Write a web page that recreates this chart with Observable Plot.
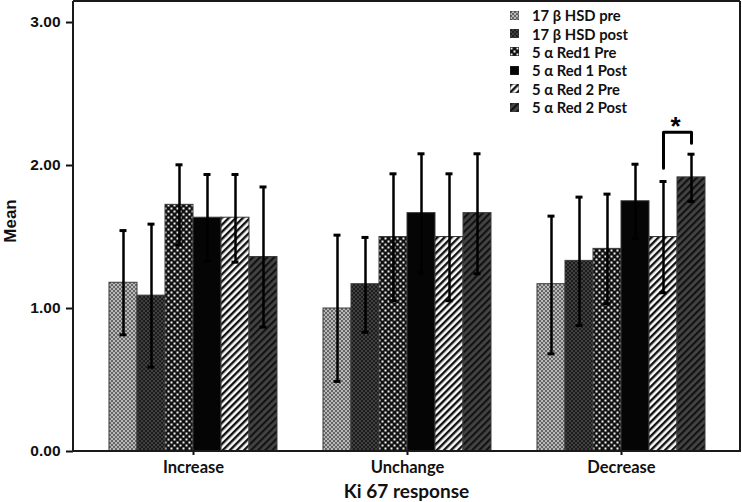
<!DOCTYPE html>
<html>
<head>
<meta charset="utf-8">
<script src="https://cdn.jsdelivr.net/npm/d3@7"></script>
<script src="https://cdn.jsdelivr.net/npm/@observablehq/plot@0.6"></script>
<style>
  body { margin: 0; background: #fff; }
  #wrap { position: relative; width: 742px; height: 502px; }
  #legend { position: absolute; left: 510px; top: 6px; font: bold 14.8px Lato, sans-serif; color: #111; }
  #legend .row { display: flex; align-items: center; height: 18.4px; }
  #legend svg { margin-right: 13px; }
</style>
</head>
<body>
<svg width="0" height="0" style="position:absolute">
  <defs>
    <pattern id="p0" width="4" height="4" patternUnits="userSpaceOnUse">
      <rect width="4" height="4" fill="#b8b8b8"/>
      <rect width="2" height="2" fill="#666"/>
      <rect x="2" y="2" width="2" height="2" fill="#666"/>
    </pattern>
    <pattern id="p1" width="4" height="4" patternUnits="userSpaceOnUse">
      <rect width="4" height="4" fill="#404040"/>
      <rect width="2" height="2" fill="#1c1c1c"/>
      <rect x="2" y="2" width="2" height="2" fill="#1c1c1c"/>
    </pattern>
    <pattern id="p2" width="6" height="6" patternUnits="userSpaceOnUse">
      <rect width="6" height="6" fill="#111"/>
      <rect x="0.5" y="0.5" width="2" height="2" fill="#f4f4f4"/>
      <rect x="3.5" y="3.5" width="2" height="2" fill="#f4f4f4"/>
    </pattern>
    <pattern id="p3" width="4" height="4" patternUnits="userSpaceOnUse">
      <rect width="4" height="4" fill="#050505"/>
    </pattern>
    <pattern id="p4" width="5" height="5" patternUnits="userSpaceOnUse" patternTransform="rotate(45)">
      <rect width="5" height="5" fill="#fafafa"/>
      <rect width="2.4" height="5" fill="#111"/>
    </pattern>
    <pattern id="p5" width="5" height="5" patternUnits="userSpaceOnUse" patternTransform="rotate(45)">
      <rect width="5" height="5" fill="#444"/>
      <rect width="2.2" height="5" fill="#121212"/>
    </pattern>
  </defs>
</svg>
<div id="wrap"><div id="legend"></div></div>
<script>
const groups = ["Increase", "Unchange", "Decrease"];
const series = ["17 β HSD pre", "17 β HSD post", "5 α Red1 Pre", "5 α Red 1 Post", "5 α Red 2 Pre", "5 α Red 2 Post"];
const patterns = ["url(#p0)", "url(#p1)", "url(#p2)", "url(#p3)", "url(#p4)", "url(#p5)"];

const meanIncrease = [1.18, 1.09, 1.725, 1.635, 1.635, 1.36];
const meanUnchange = [1.00, 1.17, 1.50, 1.667, 1.50, 1.667];
const meanDecrease = [1.17, 1.333, 1.417, 1.75, 1.50, 1.917];

const upperIncrease = [1.545, 1.59, 2.005, 1.937, 1.937, 1.85];
const upperUnchange = [1.513, 1.497, 1.942, 2.082, 1.942, 2.082];
const upperDecrease = [1.646, 1.779, 1.80, 2.009, 1.888, 2.079];

const lowerIncrease = [0.816, 0.59, 1.445, 1.33, 1.324, 0.87];
const lowerUnchange = [0.49, 0.834, 1.054, 1.25, 1.054, 1.243];
const lowerDecrease = [0.683, 0.881, 1.033, 1.49, 1.11, 1.748];

const yTicks = [0, 1, 2, 3];
const xTitle = "Ki 67 response";
const yTitle = "Mean";

// significance bracket (Decrease: 5 α Red 2 Pre vs Post)
const bracketX = ["5 α Red 2 Pre", "5 α Red 2 Pre", "5 α Red 2 Post", "5 α Red 2 Post"];
const bracketY = [1.98, 2.233, 2.233, 2.156];
const starY = 2.27;

const means = [meanIncrease, meanUnchange, meanDecrease];
const uppers = [upperIncrease, upperUnchange, upperDecrease];
const lowers = [lowerIncrease, lowerUnchange, lowerDecrease];

const data = [];
groups.forEach((g, gi) => series.forEach((s, si) => data.push({
  group: g, series: s, mean: means[gi][si], hi: uppers[gi][si], lo: lowers[gi][si], pat: patterns[si]
})));
const bracket = bracketX.map((x, i) => ({group: "Decrease", series: x, y: bracketY[i]}));
const star = [{group: "Decrease", series: "5 α Red 2 Post", y: starY}];

const W = 742, H = 502, mL = 73, mR = 2, mT = 1, mB = 51;

const chart = Plot.plot({
  width: W, height: H,
  marginLeft: mL, marginRight: mR, marginTop: mT, marginBottom: mB,
  style: {background: "#fff", color: "#111"},
  fx: {domain: groups, paddingInner: 0.207, paddingOuter: 0.155, label: null},
  x: {domain: series, padding: 0, axis: null},
  y: {domain: [0, 3.147]},
  color: {type: "identity"},
  marks: [
    Plot.barY(data, {fx: "group", x: "series", y: "mean", fill: "pat", stroke: "#3a3a3a", strokeWidth: 1}),
    Plot.ruleX(data, {fx: "group", x: "series", y1: "lo", y2: "hi", stroke: "#000", strokeWidth: 2.5}),
    Plot.tickY(data, {fx: "group", x: "series", y: "hi", stroke: "#000", strokeWidth: 3, insetLeft: 10.5, insetRight: 10.5}),
    Plot.tickY(data, {fx: "group", x: "series", y: "lo", stroke: "#000", strokeWidth: 3, insetLeft: 10.5, insetRight: 10.5}),
    Plot.line(bracket, {fx: "group", x: "series", y: "y", stroke: "#000", strokeWidth: 3, curve: "linear"}),
    Plot.text(star, {fx: "group", x: "series", y: "y", text: () => "*", dx: -16, fontSize: 26, fontWeight: "bold", fontFamily: "Arial, 'Liberation Sans', sans-serif", lineAnchor: "middle", fill: "#000"}),
    Plot.axisY({ticks: yTicks, tickFormat: ".2f", tickSize: 7, tickPadding: 6, fontSize: 15, fontWeight: "bold", fontFamily: "Arial, 'Liberation Sans', sans-serif", stroke: "#111", strokeWidth: 2, label: null}),
    Plot.axisFx({anchor: "bottom", tickSize: 4, tickPadding: 6, fontSize: 16.5, fontWeight: "bold", fontFamily: "Lato, sans-serif", stroke: "#111", strokeWidth: 2, label: null})
  ]
});
document.getElementById("wrap").prepend(chart);

const svg = d3.select(chart);
svg.selectAll('[aria-label="y-axis tick label"] text, [aria-label="y-axis tick label"]')
  .style("font-size", "15.5px").style("font-weight", "bold").style("font-family", "Arial, 'Liberation Sans', sans-serif");
svg.selectAll('[aria-label="fx-axis tick label"] text, [aria-label="fx-axis tick label"]')
  .style("font-size", "16.5px").style("font-weight", "bold").style("font-family", "Lato, sans-serif");

// The y axis is anchored on the first facet; move it to the outer frame's left edge.
const fxScale = chart.scale("fx");
const facetLeft = fxScale.apply(groups[0]);
const yShift = facetLeft - mL;
svg.selectAll('g[aria-label="y-axis tick"], g[aria-label="y-axis tick label"]').each(function() {
  const t = this.getAttribute("transform") || "";
  this.setAttribute("transform", `translate(${-yShift},0) ${t}`);
});

// plot frame (drawn from the y scale range and margins)
const yr = chart.scale("y").range;
const yTop = Math.min(...yr), yBottom = Math.max(...yr);
const frame = svg.append("g").attr("stroke", "#1a1a1a").attr("stroke-width", 2).attr("fill", "none");
frame.append("line").attr("x1", mL).attr("x2", mL).attr("y1", yTop).attr("y2", yBottom);
frame.append("line").attr("x1", W - mR).attr("x2", W - mR).attr("y1", yTop).attr("y2", yBottom);
frame.append("line").attr("x1", mL).attr("x2", W - mR).attr("y1", yTop).attr("y2", yTop);
frame.append("line").attr("x1", mL - 1).attr("x2", W - mR + 1).attr("y1", yBottom).attr("y2", yBottom);

// axis titles
svg.append("text")
  .attr("transform", `translate(16,${(yTop + yBottom) / 2 - 5}) rotate(-90)`)
  .attr("text-anchor", "middle")
  .style("font", "bold 17px Arial, 'Liberation Sans', sans-serif").attr("fill", "#111")
  .text(yTitle);
svg.append("text")
  .attr("x", (mL + W - mR) / 2).attr("y", H - 4)
  .attr("text-anchor", "middle")
  .style("font", "bold 19px Lato, sans-serif").attr("fill", "#111")
  .text(xTitle);

// legend
const legend = d3.select("#legend");
series.forEach((s, i) => {
  const row = legend.append("div").attr("class", "row");
  const sw = row.append("svg").attr("width", 9).attr("height", 9);
  sw.append("rect").attr("width", 9).attr("height", 9).attr("fill", patterns[i]).attr("stroke", "#333").attr("stroke-width", 0.8);
  row.append("span").text(s);
});
</script>
</body>
</html>
